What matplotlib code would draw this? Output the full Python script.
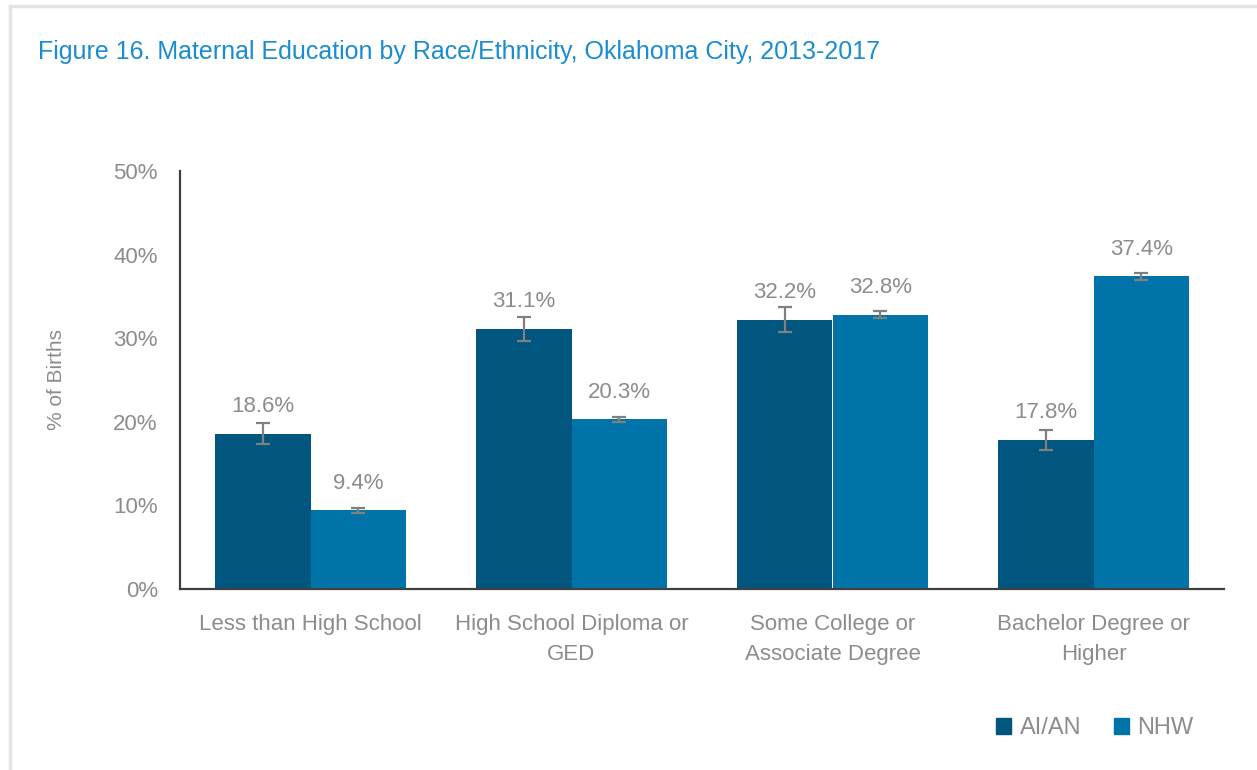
import matplotlib
matplotlib.use("Agg")
import matplotlib.pyplot as plt
import matplotlib.patches as mpatches
import numpy as np

# data
categories = ["Less than High School", "High School Diploma or\nGED",
              "Some College or\nAssociate Degree", "Bachelor Degree or\nHigher"]
aian = [18.6, 31.1, 32.2, 17.8]
nhw = [9.4, 20.3, 32.8, 37.4]
aian_err = [1.2, 1.4, 1.5, 1.2]
nhw_err = [0.3, 0.3, 0.4, 0.4]
series_names = ["AI/AN", "NHW"]

DARK = "#00567F"
LIGHT = "#0074A9"
GREY = "#8C8C8C"
FONT = ["Liberation Sans Narrow", "Liberation Sans", "DejaVu Sans"]
plt.rcParams["font.family"] = FONT

fig = plt.figure(figsize=(12.57, 7.7), dpi=100)

# light frame around the figure (top and left edges visible in the original)
fig.add_artist(plt.Line2D([10 / 1257, 10 / 1257], [0, 1 - 6 / 770], color="#E3E3E3", lw=2.5))
fig.add_artist(plt.Line2D([10 / 1257, 1], [1 - 6 / 770, 1 - 6 / 770], color="#E3E3E3", lw=2.5))

fig.text(38 / 1257, 1 - 52 / 770, "Figure 16. Maternal Education by Race/Ethnicity, Oklahoma City, 2013-2017",
         color="#1A8DD0", fontsize=18, va="center", ha="left")

ax = fig.add_axes([180 / 1257, 1 - 589 / 770, (1224 - 180) / 1257, (589 - 171) / 770])

x = np.arange(len(categories))
w = 0.365
err_kw = dict(ecolor="#808080", elinewidth=1.6, capsize=5, capthick=1.6)
ax.bar(x - w / 2, aian, w, color=DARK, yerr=aian_err, error_kw=err_kw, label=series_names[0])
ax.bar(x + w / 2, nhw, w, color=LIGHT, yerr=nhw_err, error_kw=err_kw, label=series_names[1])

for xs, vals in [(x - w / 2, aian), (x + w / 2, nhw)]:
    for xi, v in zip(xs, vals):
        ax.text(xi, v + 2.0, f"{v:.1f}%", ha="center", va="bottom", color=GREY, fontsize=16)

ax.set_xlim(-0.5, 3.5)
ax.set_ylim(0, 50)
ax.set_yticks(range(0, 51, 10))
ax.set_yticklabels([f"{t}%" for t in range(0, 51, 10)])
ax.set_xticks(x)
ax.set_xticklabels(categories)
ax.tick_params(axis="both", length=0, colors=GREY, labelsize=16)
ax.tick_params(axis="y", pad=16)
ax.tick_params(axis="x", pad=18)
for lab in ax.get_xticklabels():
    lab.set_linespacing(1.55)
ax.set_ylabel("% of Births", color=GREY, fontsize=15, labelpad=34)

for s in ["top", "right"]:
    ax.spines[s].set_visible(False)
for s in ["left", "bottom"]:
    ax.spines[s].set_color("#404040")
    ax.spines[s].set_linewidth(1.6)

handles = [mpatches.Patch(color=DARK, label=series_names[0]),
           mpatches.Patch(color=LIGHT, label=series_names[1])]
leg = fig.legend(handles=handles, loc="center right", bbox_to_anchor=(1215 / 1257, 1 - 728 / 770),
                 ncol=2, frameon=False, fontsize=17, handlelength=0.65, handleheight=0.65,
                 handletextpad=0.35, columnspacing=1.4)
for t in leg.get_texts():
    t.set_color(GREY)

fig.savefig("out.png", dpi=100)
